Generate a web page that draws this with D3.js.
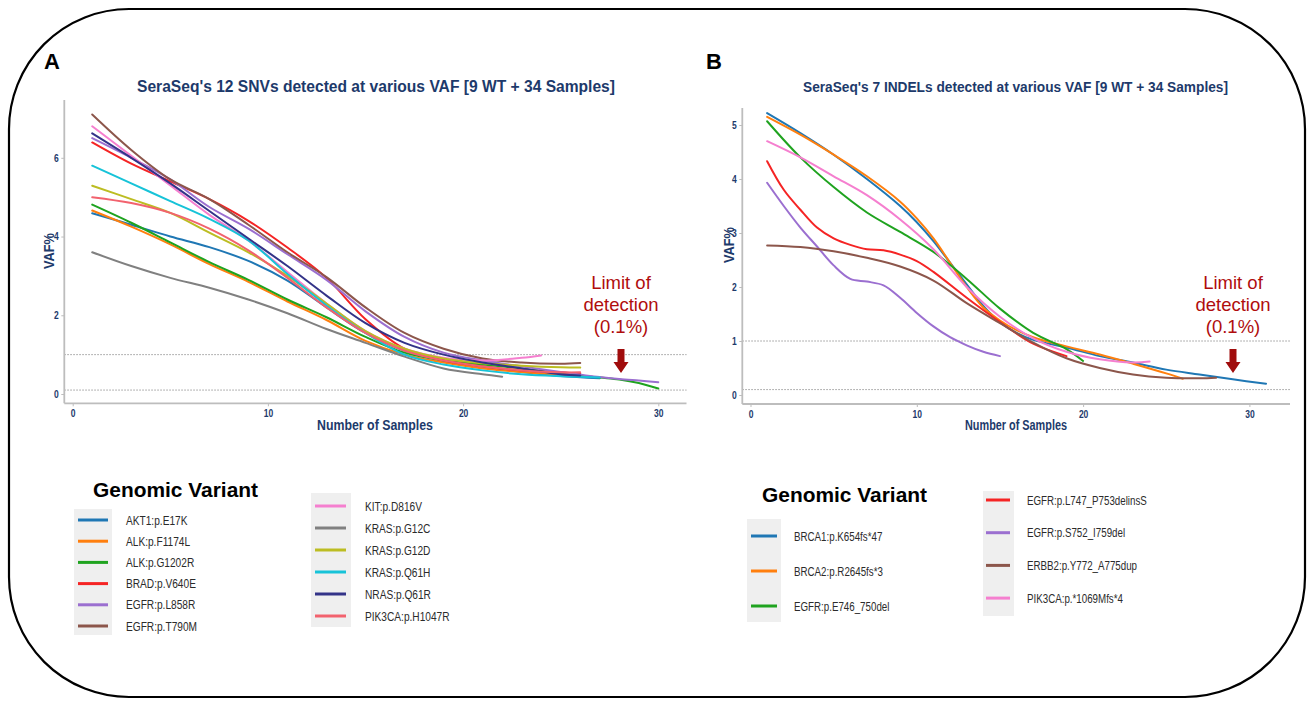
<!DOCTYPE html>
<html><head><meta charset="utf-8">
<script src="https://cdn.jsdelivr.net/npm/d3@7"></script>
<style>body{margin:0;background:#fff}svg{display:block}text{font-family:"Liberation Sans",Arial,sans-serif}</style>
</head><body><svg id="c" width="1313" height="702"></svg>
<script>
// ---------------- data ----------------
const sampleTicks = [0, 10, 20, 30];
const snvVafTicks = [0, 2, 4, 6];
const indelVafTicks = [0, 1, 2, 3, 4, 5];
const thresholds = [1, 0.1];

const snvTitle = "SeraSeq's 12 SNVs detected at various VAF [9 WT + 34 Samples]";
const indelTitle = "SeraSeq's 7 INDELs detected at various VAF [9 WT + 34 Samples]";

const snvNames = ["AKT1:p.E17K","ALK:p.F1174L","ALK:p.G1202R","BRAD:p.V640E","EGFR:p.L858R","EGFR:p.T790M",
  "KIT:p.D816V","KRAS:p.G12C","KRAS:p.G12D","KRAS:p.Q61H","NRAS:p.Q61R","PIK3CA:p.H1047R"];
const snvColors = ["#1f77b4","#ff7f0e","#1fa31f","#f52424","#9b6fd0","#8c564b",
  "#f57fcf","#808080","#bcbd22","#17c3d8","#333388","#f2626e"];

// [Number of Samples, VAF%]
const akt1      = [[1,4.59],[3,4.3],[5,4.0],[7,3.73],[9,3.38],[11,2.88],[13,2.2],[15,1.55],[17,1.1],[19,0.85],[21,0.7],[23,0.56],[25,0.46],[27,0.4]];
const alkF1174L = [[1,4.66],[3,4.25],[5,3.8],[7,3.3],[9,2.85],[11,2.35],[13,1.88],[15,1.35],[17,1.0],[19,0.8],[21,0.65],[23,0.56],[25,0.5],[26,0.5]];
const alkG1202R = [[1,4.81],[3,4.35],[5,3.85],[7,3.35],[9,2.9],[11,2.4],[13,1.95],[15,1.45],[17,1.05],[19,0.85],[21,0.75],[23,0.65],[25,0.52],[27,0.42],[28,0.37],[29,0.28],[30,0.14]];
const brafV640E = [[1,6.39],[3,5.85],[5,5.4],[7,4.95],[9,4.4],[11,3.72],[13,2.95],[15,1.9],[17,1.15],[19,0.85],[21,0.7],[23,0.6],[25,0.55],[26,0.52]];
const egfrL858R = [[1,6.5],[3,6.0],[5,5.45],[7,4.75],[9,4.2],[11,3.55],[13,2.9],[15,2.1],[17,1.45],[19,1.05],[21,0.85],[23,0.7],[25,0.56],[27,0.43],[28,0.38],[29,0.34],[30,0.3]];
const egfrT790M = [[1,7.1],[3,6.2],[5,5.45],[7,4.95],[9,4.3],[11,3.6],[13,2.97],[15,2.2],[17,1.55],[19,1.15],[21,0.9],[23,0.8],[25,0.77],[26,0.79]];
const kitD816V  = [[1,6.8],[3,6.05],[5,5.3],[7,4.55],[9,3.9],[11,3.1],[13,2.3],[15,1.6],[17,1.15],[19,0.92],[21,0.85],[23,0.92],[24,0.98]];
const krasG12C  = [[1,3.6],[3,3.25],[5,2.95],[7,2.7],[9,2.4],[11,2.05],[13,1.65],[15,1.3],[17,0.95],[19,0.65],[21,0.5],[22,0.44]];
const krasG12D  = [[1,5.29],[3,4.95],[5,4.6],[7,4.1],[9,3.6],[11,3.0],[13,2.3],[15,1.6],[17,1.15],[19,0.9],[21,0.78],[23,0.72],[25,0.68],[26,0.67]];
const krasQ61H  = [[1,5.8],[3,5.35],[5,4.9],[7,4.45],[9,3.9],[11,3.05],[13,2.25],[15,1.55],[17,1.0],[19,0.75],[21,0.6],[23,0.5],[25,0.45],[27,0.42]];
const nrasQ61R  = [[1,6.62],[3,6.0],[5,5.35],[7,4.65],[9,3.95],[11,3.25],[13,2.5],[15,1.8],[17,1.3],[19,1.0],[21,0.8],[23,0.65],[25,0.5],[26,0.47]];
const pik3caH1047R = [[1,5.0],[3,4.85],[5,4.6],[7,4.2],[9,3.65],[11,2.95],[13,2.2],[15,1.55],[17,1.1],[19,0.85],[21,0.7],[23,0.6],[25,0.55],[26,0.55]];
const snvValues = [akt1, alkF1174L, alkG1202R, brafV640E, egfrL858R, egfrT790M,
  kitD816V, krasG12C, krasG12D, krasQ61H, nrasQ61R, pik3caH1047R];

const indelNames = ["BRCA1:p.K654fs*47","BRCA2:p.R2645fs*3","EGFR:p.E746_750del",
  "EGFR:p.L747_P753delinsS","EGFR:p.S752_I759del","ERBB2:p.Y772_A775dup","PIK3CA:p.*1069Mfs*4"];
const indelColors = ["#1f77b4","#ff7f0e","#1fa31f","#f52424","#9b6fd0","#8c564b","#f57fcf"];

const brca1 = [[1,5.22],[3,4.85],[5,4.45],[7,4.0],[9,3.5],[10,3.2],[11,2.85],[12,2.45],[13,2.05],[14,1.65],[15,1.35],[16,1.15],[17,1.02],[19,0.88],[21,0.72],[23,0.6],[25,0.47],[27,0.38],[29,0.29],[31,0.21]];
const brca2 = [[1,5.15],[3,4.82],[5,4.45],[7,4.05],[9,3.58],[10,3.27],[11,2.9],[12,2.45],[13,2.0],[14,1.62],[15,1.38],[16,1.2],[17,1.07],[19,0.9],[21,0.75],[23,0.58],[25,0.4],[26,0.3]];
const egfrE746 = [[1,5.07],[3,4.4],[5,3.85],[7,3.38],[9,3.02],[11,2.65],[13,2.15],[15,1.6],[17,1.15],[19,0.85],[20,0.63]];
const egfrL747 = [[1,4.33],[2,3.8],[3,3.43],[4,3.1],[5,2.9],[6,2.78],[7,2.7],[8,2.68],[9,2.6],[10,2.48],[11,2.28],[13,1.8],[15,1.35],[17,0.95],[19,0.72]];
const egfrS752 = [[1,3.93],[2,3.5],[3,3.1],[4,2.75],[5,2.4],[6,2.15],[7,2.1],[8,2.03],[9,1.8],[10,1.52],[11,1.27],[12,1.07],[13,0.92],[14,0.8],[15,0.72]];
const erbb2 = [[1,2.77],[3,2.74],[5,2.66],[7,2.54],[9,2.38],[11,2.12],[13,1.7],[15,1.33],[17,0.97],[19,0.68],[21,0.5],[23,0.38],[25,0.32],[27,0.31],[28,0.32]];
const pik3ca1069 = [[1,4.7],[3,4.4],[5,4.05],[7,3.7],[9,3.25],[11,2.7],[13,2.0],[15,1.45],[17,1.05],[19,0.8],[21,0.66],[23,0.6],[24,0.62]];
const indelValues = [brca1, brca2, egfrE746, egfrL747, egfrS752, erbb2, pik3ca1069];

// ---------------- drawing ----------------
const NAVY = "#1d3a6b", AXIS = "#bdbdbd", DARKRED = "#b00d0d";
const svg = d3.select("#c");

function squeeze(sel, target) {
  sel.each(function () {
    const w = this.getComputedTextLength();
    const t = typeof target === "number" && target > 2 ? target : w * target;
    this.setAttribute("textLength", t);
    this.setAttribute("lengthAdjust", "spacingAndGlyphs");
  });
  return sel;
}

// outer rounded frame
svg.append("rect").attr("x", 9).attr("y", 9).attr("width", 1296).attr("height", 688)
  .attr("rx", 120).attr("ry", 120).attr("fill", "none").attr("stroke", "#000").attr("stroke-width", 2.2);

function panel(cfg) {
  const g = svg.append("g");
  const x = d3.scaleLinear().domain([0, 30]).range(cfg.xRange);
  const y = d3.scaleLinear().domain([0, cfg.yMax]).range([cfg.y0, cfg.yTopAtMax]);

  g.append("text").attr("x", cfg.letterX).attr("y", 69).attr("text-anchor", "middle")
    .attr("font-size", 22).attr("font-weight", "bold").attr("fill", "#000").text(cfg.letter);

  squeeze(g.append("text").attr("x", cfg.titleX).attr("y", 92).attr("text-anchor", "middle")
    .attr("font-size", cfg.titleSize).attr("font-weight", "bold").attr("fill", NAVY).text(cfg.title), cfg.titleW);

  g.selectAll(".thr").data(thresholds).join("line")
    .attr("x1", cfg.frameL).attr("x2", cfg.frameR)
    .attr("y1", d => y(d)).attr("y2", d => y(d))
    .attr("stroke", "#9a9a9a").attr("stroke-width", 1).attr("stroke-dasharray", "1.5,1.5");

  const xa = g.append("g").attr("transform", `translate(0,${cfg.frameB})`)
    .call(d3.axisBottom(x).tickValues(sampleTicks).tickFormat(d3.format("d")).tickSize(3).tickPadding(3.5));
  const ya = g.append("g").attr("transform", `translate(${cfg.frameL},0)`)
    .call(d3.axisLeft(y).tickValues(cfg.yTicks).tickFormat(d3.format("d")).tickSize(3).tickPadding(2.5));
  [xa, ya].forEach(a => {
    a.select(".domain").remove();
    a.selectAll(".tick line").attr("stroke", AXIS);
    a.selectAll(".tick text").attr("font-size", 10).attr("font-weight", "bold").attr("fill", NAVY)
      .attr("font-family", '"Liberation Sans",Arial,sans-serif');
    squeeze(a.selectAll(".tick text"), 0.85);
  });
  g.append("line").attr("x1", cfg.frameL).attr("x2", cfg.frameL).attr("y1", cfg.frameT).attr("y2", cfg.frameB)
    .attr("stroke", AXIS).attr("stroke-width", 1.8);
  g.append("line").attr("x1", cfg.frameL).attr("x2", cfg.frameR).attr("y1", cfg.frameB).attr("y2", cfg.frameB)
    .attr("stroke", AXIS).attr("stroke-width", 1.8);

  squeeze(g.append("text").attr("x", cfg.xTitleX).attr("y", 430).attr("text-anchor", "middle")
    .attr("font-size", 14).attr("font-weight", "bold").attr("fill", NAVY).text("Number of Samples"), cfg.xTitleW);
  squeeze(g.append("text").attr("transform", `translate(${cfg.yTitleX},${cfg.yTitleY}) rotate(-90)`)
    .attr("text-anchor", "middle").attr("dy", "0.35em")
    .attr("font-size", 14).attr("font-weight", "bold").attr("fill", NAVY).text("VAF%"), 36);

  const line = d3.line().x(d => x(d[0])).y(d => y(d[1])).curve(d3.curveCatmullRom.alpha(0.5));
  g.selectAll(".series").data(cfg.values).join("path")
    .attr("d", line).attr("fill", "none")
    .attr("stroke", (d, i) => cfg.colors[i]).attr("stroke-width", 2)
    .attr("stroke-linecap", "round");

  ["Limit of", "detection", "(0.1%)"].forEach((t, i) => {
    g.append("text").attr("x", cfg.lodX).attr("y", 289 + i * 22).attr("text-anchor", "middle")
      .attr("font-size", 18.5).attr("fill", DARKRED).text(t);
  });
  const ax = cfg.lodX, top = 349, bot = 373;
  g.append("path").attr("fill", "#a00c0c")
    .attr("d", `M${ax - 3.5},${top}H${ax + 3.5}V${bot - 11}H${ax + 7.5}L${ax},${bot}L${ax - 7.5},${bot - 11}H${ax - 3.5}Z`);

  g.append("text").attr("x", cfg.legTitleX).attr("y", cfg.legTitleY)
    .attr("font-size", 20).attr("font-weight", "bold").attr("fill", "#000").text("Genomic Variant")
    .call(s => squeeze(s, 165));
  cfg.legCols.forEach(col => {
    g.append("rect").attr("x", col.box[0]).attr("y", col.box[1]).attr("width", col.box[2]).attr("height", col.box[3])
      .attr("fill", "#efefef");
    col.items.forEach((idx, k) => {
      const yy = col.y0 + k * col.dy;
      g.append("line").attr("x1", col.keyX[0]).attr("x2", col.keyX[1]).attr("y1", yy).attr("y2", yy)
        .attr("stroke", cfg.colors[idx]).attr("stroke-width", 3);
      const t = g.append("text").attr("x", col.textX).attr("y", yy + 4.5)
        .attr("font-size", cfg.legFont).attr("fill", "#2b2b2b").text(cfg.names[idx]);
      squeeze(t, cfg.legSqueeze);
    });
  });
}

panel({
  letter: "A", letterX: 52, title: snvTitle, titleX: 376, titleW: 478, titleSize: 16,
  xRange: [72.7, 658.3], y0: 394, yTopAtMax: 157.8, yMax: 6, yTicks: snvVafTicks,
  frameL: 64.3, frameR: 686.5, frameT: 100, frameB: 403.3,
  xTitleX: 375, xTitleW: 116, yTitleX: 49, yTitleY: 251,
  values: snvValues, colors: snvColors, names: snvNames, lodX: 621,
  legTitleX: 93, legTitleY: 497, legFont: 13, legSqueeze: 0.78,
  legCols: [
    { box: [74, 509, 38, 126], keyX: [78, 108], textX: 126, y0: 520, dy: 21.2, items: [0,1,2,3,4,5] },
    { box: [311, 493, 40, 134], keyX: [315, 346], textX: 365, y0: 506, dy: 22, items: [6,7,8,9,10,11] }
  ]
});

panel({
  letter: "B", letterX: 714, title: indelTitle, titleX: 1015.5, titleW: 425, titleSize: 15,
  xRange: [750.5, 1249.4], y0: 395, yTopAtMax: 125, yMax: 5, yTicks: indelVafTicks,
  frameL: 742.3, frameR: 1290, frameT: 108, frameB: 404,
  xTitleX: 1016, xTitleW: 102, yTitleX: 729, yTitleY: 245,
  values: indelValues, colors: indelColors, names: indelNames, lodX: 1233,
  legTitleX: 762, legTitleY: 502, legFont: 12.5, legSqueeze: 0.78,
  legCols: [
    { box: [747, 519, 34, 103], keyX: [751, 777], textX: 794, y0: 536, dy: 35, items: [0,1,2] },
    { box: [983, 491, 31, 125], keyX: [986, 1010], textX: 1027, y0: 500, dy: 32.7, items: [3,4,5,6] }
  ]
});
</script></body></html>
